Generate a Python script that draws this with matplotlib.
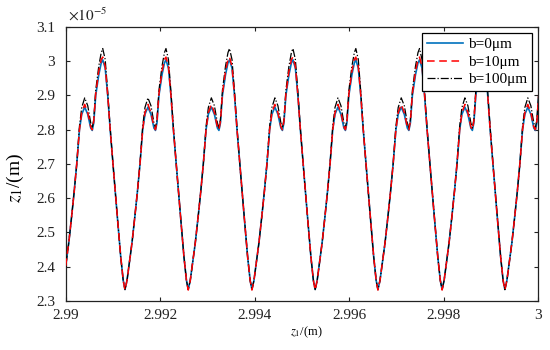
import numpy as np
import matplotlib
matplotlib.use("Agg")
import matplotlib.pyplot as plt

# positions of the minima (one cycle between two of them)
minima = [2.98991, 2.99125, 2.99259, 2.99394, 2.99528, 2.99661, 2.99797, 2.99930, 3.00064]

# one cycle, as fraction of the distance between two minima
phase = [0, .032, .068, .111, .158, .197, .237, .280, .316, .363, .411, .458, .482,
         .506, .537, .585, .624, .648, .687, .727, .766, .821, .877, .932, .972]

# z1 values (x 1e-5 m) over one cycle
z_b0 = [2.334, 2.36, 2.41, 2.47, 2.55, 2.62, 2.70, 2.80, 2.845, 2.866, 2.845, 2.805, 2.798,
        2.82, 2.90, 2.96, 2.995, 3.004, 2.98, 2.90, 2.80, 2.675, 2.55, 2.43, 2.36]
z_b10 = [2.332, 2.36, 2.41, 2.47, 2.55, 2.62, 2.70, 2.80, 2.85, 2.874, 2.85, 2.808, 2.800,
         2.825, 2.905, 2.97, 3.005, 3.012, 2.985, 2.90, 2.80, 2.675, 2.55, 2.43, 2.36]
z_b100 = [2.333, 2.36, 2.41, 2.47, 2.55, 2.62, 2.70, 2.81, 2.865, 2.893, 2.87, 2.82, 2.805,
          2.83, 2.915, 2.985, 3.025, 3.037, 3.005, 2.91, 2.805, 2.675, 2.55, 2.43, 2.36]

labels = ['b=0\u03bcm', 'b=10\u03bcm', 'b=100\u03bcm']

xticks = [2.99, 2.992, 2.994, 2.996, 2.998, 3.0]
xticklabels = ['2.99', '2.992', '2.994', '2.996', '2.998', '3']
yticks = [2.3, 2.4, 2.5, 2.6, 2.7, 2.8, 2.9, 3.0, 3.1]
yticklabels = ['2.3', '2.4', '2.5', '2.6', '2.7', '2.8', '2.9', '3', '3.1']


def build(profile):
    xs, ys = [], []
    for a, b in zip(minima[:-1], minima[1:]):
        xs.extend(a + np.array(phase) * (b - a))
        ys.extend(profile)
    xs.append(minima[-1])
    ys.append(profile[0])
    return np.array(xs), np.array(ys)


plt.rcParams['font.family'] = ['Liberation Serif', 'DejaVu Serif']
plt.rcParams['mathtext.fontset'] = 'stix'

fig = plt.figure(figsize=(5.5, 3.5), dpi=100)
ax = fig.add_axes([0.12, 0.14, 0.858, 0.783])

x0, y0 = build(z_b0)
x1, y1 = build(z_b10)
x2, y2 = build(z_b100)
# rood ligt in het origineel bovenop, zwart er net onder
ax.plot(x0, y0, color='#0072BD', lw=1.2, label=labels[0], zorder=2)
ax.plot(x1, y1, color='#FF0000', lw=1.1, dashes=(5, 3), label=labels[1], zorder=4)
ax.plot(x2, y2, color='black', lw=0.9, linestyle='-.', label=labels[2], zorder=3)

ax.set_xlim(2.99, 3.0)
ax.set_ylim(2.3, 3.1)
ax.set_xticks(xticks)
ax.set_xticklabels(xticklabels)
ax.set_yticks(yticks)
ax.set_yticklabels(yticklabels)
ax.tick_params(direction='in', top=True, right=True, length=3, width=0.8,
               labelsize=11, colors='#222222')
ax.tick_params(axis='x', pad=6)
ax.tick_params(axis='y', pad=8)
for s in ax.spines.values():
    s.set_linewidth(0.9)
    s.set_color('#222222')

ax.set_xlabel(r'$z_1$/(m)', fontsize=9)
ax.xaxis.set_label_coords(0.51, -0.085)
ax.set_ylabel(r'$z_1$/(m)', fontsize=14)
ax.yaxis.set_label_coords(-0.085, 0.45)
ax.text(0.005, 1.012, r'$\times10^{-5}$', transform=ax.transAxes, fontsize=11,
        ha='left', va='bottom', color='#222222')

leg = ax.legend(loc='upper right', fontsize=11, borderaxespad=0.4, handlelength=2.4,
                handletextpad=0.3, labelspacing=0.25, borderpad=0.3, fancybox=False,
                framealpha=1, edgecolor='black')
leg.get_frame().set_linewidth(0.9)
leg.set_zorder(10)

fig.savefig('out.png', dpi=100)
